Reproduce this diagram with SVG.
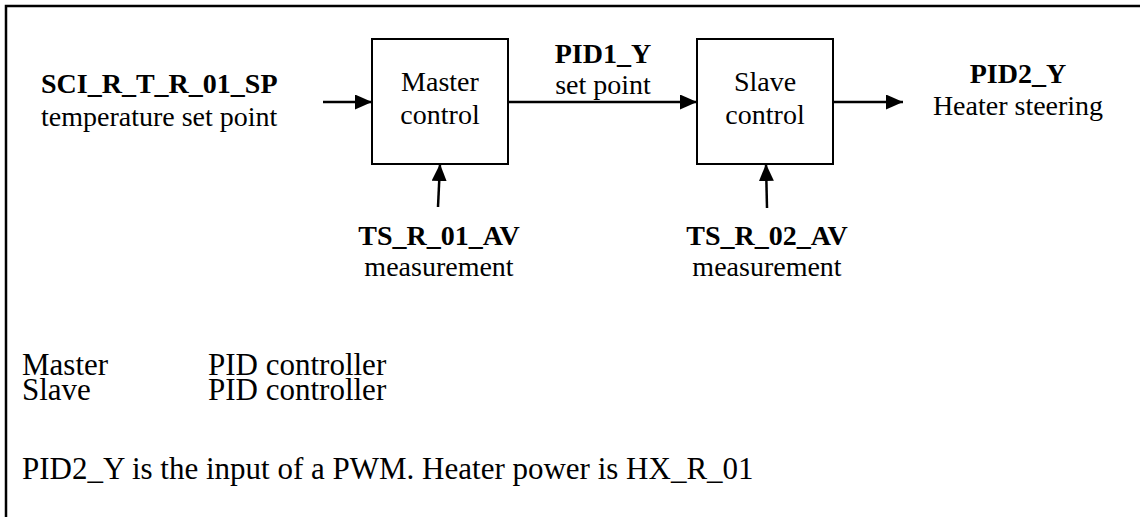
<svg xmlns="http://www.w3.org/2000/svg" width="1140" height="517" viewBox="0 0 1140 517">
<defs>
<marker id="ah" viewBox="0 0 17 15" refX="17" refY="7.5" markerWidth="17" markerHeight="15" markerUnits="userSpaceOnUse" orient="auto">
<path d="M0,0 L17,7.5 L0,15 Z" fill="#000"/>
</marker>
<style>
text{font-family:"Liberation Serif","Times New Roman",serif;font-size:28px;fill:#000}
.b{font-weight:bold}
.m{text-anchor:middle}
.n{font-size:31px}
.box{fill:#fff;stroke:#000;stroke-width:2}
.c{stroke:#000;stroke-width:2.5;fill:none;marker-end:url(#ah)}
</style>
</defs>
<rect width="1140" height="517" fill="#fff"/>
<path d="M6,530 L6,6 L1150,6" fill="none" stroke="#000" stroke-width="2.5"/>
<g id="master">
<rect class="box" x="372" y="39" width="136" height="125"/>
<text class="m" x="440" y="91">Master</text>
<text class="m" x="440" y="124">control</text>
</g>
<g id="slave">
<rect class="box" x="697" y="39" width="136" height="125"/>
<text class="m" x="765" y="91">Slave</text>
<text class="m" x="765" y="124">control</text>
</g>
<g id="setpoint">
<text class="b" x="41" y="93">SCI_R_T_R_01_SP</text>
<text x="41" y="126">temperature set point</text>
</g>
<g id="pid1">
<text class="b m" x="603" y="63">PID1_Y</text>
<text class="m" x="603" y="94">set point</text>
</g>
<g id="pid2">
<text class="b m" x="1018" y="83">PID2_Y</text>
<text class="m" x="1018" y="115">Heater steering</text>
</g>
<g id="ts1">
<text class="b m" x="439" y="245">TS_R_01_AV</text>
<text class="m" x="439" y="276">measurement</text>
</g>
<g id="ts2">
<text class="b m" x="767" y="245">TS_R_02_AV</text>
<text class="m" x="767" y="276">measurement</text>
</g>
<g id="connectors">
<line class="c" x1="323" y1="102" x2="372" y2="102"/>
<line class="c" x1="508" y1="102" x2="697" y2="102"/>
<line class="c" x1="833" y1="102" x2="903" y2="102"/>
<line class="c" x1="438" y1="207" x2="440" y2="164"/>
<line class="c" x1="767" y1="208" x2="766" y2="164"/>
</g>
<g id="notes">
<text class="n" x="22" y="375">Master</text>
<text class="n" x="208" y="375">PID controller</text>
<text class="n" x="22" y="400">Slave</text>
<text class="n" x="208" y="400">PID controller</text>
<text class="n" x="22" y="479">PID2_Y is the input of a PWM. Heater power is HX_R_01</text>
</g>
</svg>
